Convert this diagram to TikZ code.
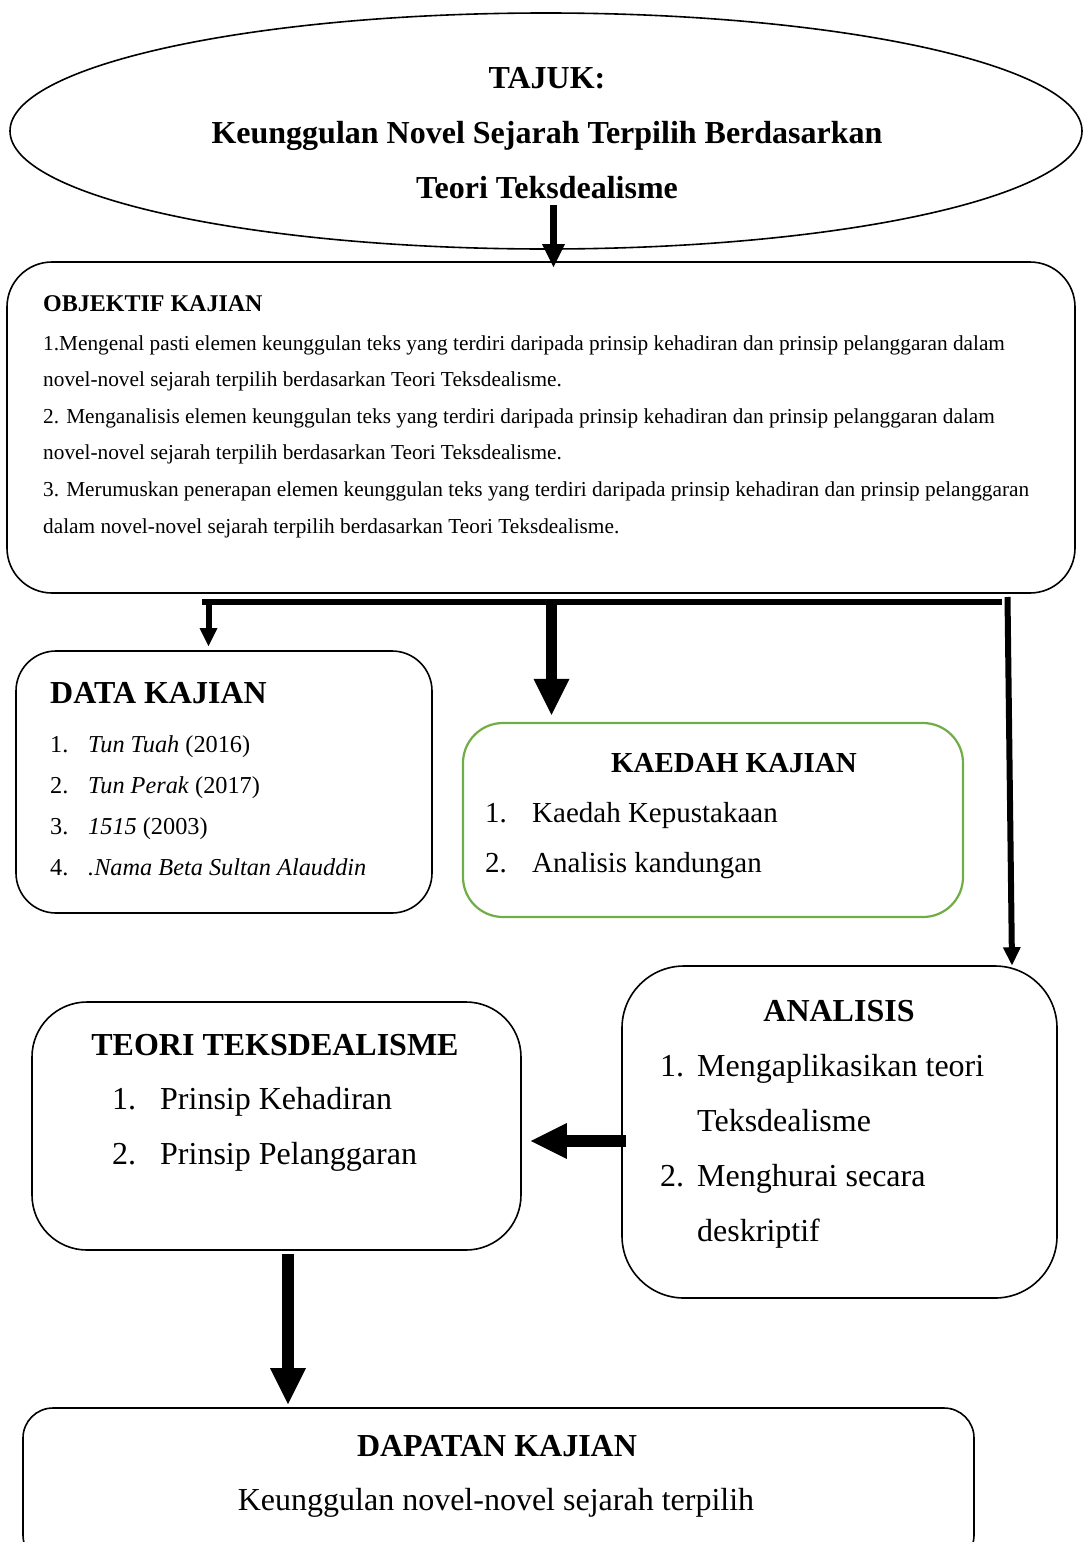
\documentclass[tikz,border=0pt]{standalone}
\usepackage{fontspec}
\setmainfont{Liberation Serif}
\usetikzlibrary{arrows.meta,positioning,shapes.geometric,calc}
\definecolor{kaedahgreen}{RGB}{112,173,71}
\newcommand{\numbox}[2]{\makebox[#1][l]{#2}}
\tikzset{
	box/.style={draw, rectangle, rounded corners=#1, line width=1.6pt, inner sep=0pt},
	box/.default=40pt,
	thinarrow/.style={line width=6pt, -{Triangle[length=18pt,width=18pt,line width=0pt]}},
	midarrow/.style={line width=7pt, -{Triangle[length=23pt,width=23pt,line width=0pt]}},
	fatarrow/.style={line width=11.5pt, -{Triangle[length=36pt,width=36pt,line width=0pt]}},
	title/.style={inner sep=0pt, font=\bfseries\fontsize{32}{32}\selectfont},
	txt/.style={inner sep=0pt, align=left},
}
\begin{document}
\begin{tikzpicture}[x=1pt,y=-1pt]
		\clip (0,0) rectangle (1083,1542);
		
		% Boxes
		\node[draw, ellipse, line width=1.6pt, minimum width=1072pt, minimum height=236pt] (tajuk) at (546,131) {};
		\node[box=45pt, minimum width=1068pt, minimum height=331pt] (objektif) at (541,427.5) {};
		\node[box, minimum width=416pt, minimum height=262pt] (data) at (224,782) {};
		\node[box, draw=kaedahgreen, line width=2.2pt, minimum width=500pt, minimum height=194pt] (kaedah) at (713,820) {};
		\node[box=62pt, minimum width=435pt, minimum height=332pt] (analisis) at (839.5,1132) {};
		\node[box=55pt, minimum width=489pt, minimum height=248pt] (teori) at (276.5,1126) {};
		\node[box=30pt, minimum width=951pt, minimum height=157pt] (dapatan) at (498.5,1486.5) {};
		
		% Texts (multi-line nodes sit on their last baseline)
		\node[anchor=base, inner sep=0pt, align=center, font=\bfseries\fontsize{32}{55}\selectfont] (tajuktext) at (547,198)
			{TAJUK:\\Keunggulan Novel Sejarah Terpilih Berdasarkan\\Teori Teksdealisme};
		\node[anchor=base west, txt, font=\fontsize{21.3}{36.6}\selectfont] (objtext) at (43,533)
			{{\bfseries\fontsize{24}{24}\selectfont OBJEKTIF KAJIAN}\\[2.4pt]
			1.Mengenal pasti elemen keunggulan teks yang terdiri daripada prinsip kehadiran dan prinsip pelanggaran dalam\\
			novel-novel sejarah terpilih berdasarkan Teori Teksdealisme.\\
			2. Menganalisis elemen keunggulan teks yang terdiri daripada prinsip kehadiran dan prinsip pelanggaran dalam\\
			novel-novel sejarah terpilih berdasarkan Teori Teksdealisme.\\
			3. Merumuskan penerapan elemen keunggulan teks yang terdiri daripada prinsip kehadiran dan prinsip pelanggaran\\
			dalam novel-novel sejarah terpilih berdasarkan Teori Teksdealisme.};
		\node[anchor=base west, title] (datatitle) at (50,703) {DATA KAJIAN};
		\node[anchor=base west, txt, font=\fontsize{24.3}{41}\selectfont] (datalist) at (50,875)
			{\numbox{38pt}{1.}\textit{Tun Tuah} (2016)\\
			\numbox{38pt}{2.}\textit{Tun Perak} (2017)\\
			\numbox{38pt}{3.}\textit{1515} (2003)\\
			\numbox{38pt}{4.}\textit{.Nama Beta Sultan Alauddin}};
		\node[anchor=base, inner sep=0pt, font=\bfseries\fontsize{29}{29}\selectfont] (kaedahtitle) at (734,772) {KAEDAH KAJIAN};
		\node[anchor=base west, txt, font=\fontsize{29}{50}\selectfont] (kaedahlist) at (485,872)
			{\numbox{47pt}{1.}Kaedah Kepustakaan\\
			\numbox{47pt}{2.}Analisis kandungan};
		\node[anchor=base, title] (analisistitle) at (839,1021) {ANALISIS};
		\node[anchor=base west, txt, font=\fontsize{32}{55}\selectfont] (analisislist) at (660,1241)
			{\numbox{37pt}{1.}Mengaplikasikan teori\\
			\hspace*{37pt}Teksdealisme\\
			\numbox{37pt}{2.}Menghurai secara\\
			\hspace*{37pt}deskriptif};
		\node[anchor=base, title] (teorititle) at (275,1055) {TEORI TEKSDEALISME};
		\node[anchor=base west, txt, font=\fontsize{32}{55}\selectfont] (teorilist) at (112,1164)
			{\numbox{48pt}{1.}Prinsip Kehadiran\\
			\numbox{48pt}{2.}Prinsip Pelanggaran};
		\node[anchor=base, title] (dapatantitle) at (497,1456) {DAPATAN KAJIAN};
		\node[anchor=base, inner sep=0pt, font=\fontsize{32}{32}\selectfont] (dapatantext) at (496,1510) {Keunggulan novel-novel sejarah terpilih};
		
		% Connectors
		\coordinate (t1) at (553.5,205);
		\coordinate (barL) at (202,602);
		\coordinate (barR) at (1002,602);
		\coordinate (b1) at (208.5,600);
		\coordinate (b2) at (551.5,602);
		\coordinate (b3) at (1007.5,597);
		\draw[midarrow] (t1) -- ($(t1 |- objektif.north)+(0,6)$);
		\draw[line width=6pt] (barL) -- (barR);
		\draw[thinarrow] (b1) -- ($(b1 |- data.north)+(0,-4)$);
		\draw[fatarrow] (b2) -- ($(b2 |- kaedah.north)+(0,-7)$);
		\draw[thinarrow] (b3) -- ($(analisis.north)+(172.5,0)$);
		\draw[fatarrow] ($(analisis.west)+(5,9)$) -- ($(teori.east |- analisis.west)+(9,9)$);
		\draw[fatarrow] ($(teori.south)+(11.5,3)$) -- ($(teori.south |- dapatan.north)+(11.5,-3)$);
	\end{tikzpicture}
\end{document}
